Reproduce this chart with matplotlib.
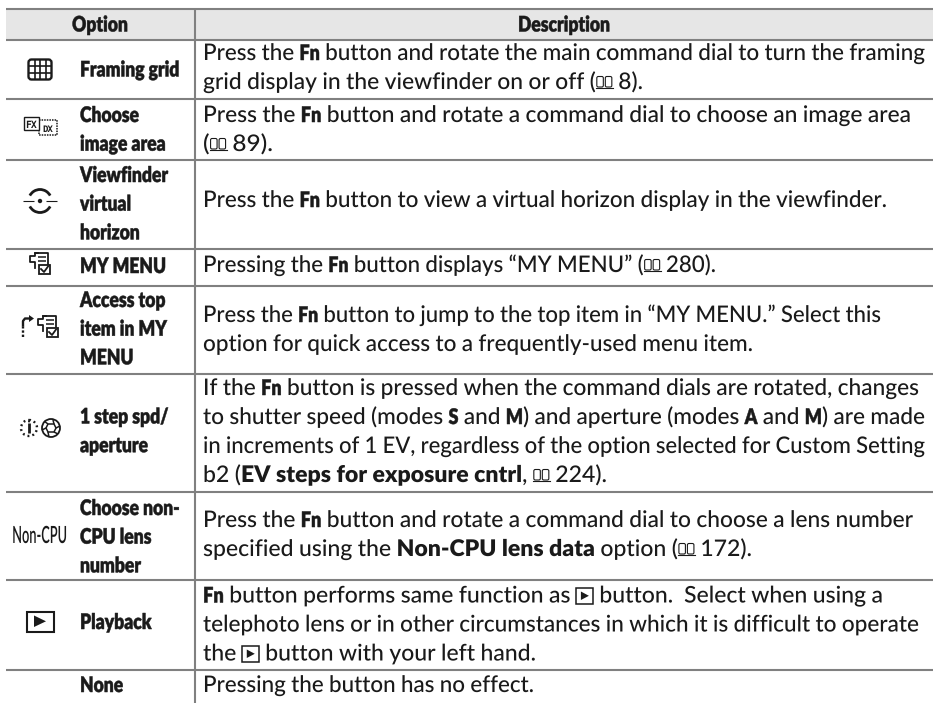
import re
import matplotlib
matplotlib.use("Agg")
import matplotlib.pyplot as plt
from matplotlib.patches import Rectangle, FancyBboxPatch, Circle, Polygon, Arc
from matplotlib.font_manager import FontProperties
from matplotlib.patheffects import AbstractPathEffect
from matplotlib.transforms import Affine2D

plt.rcParams["text.hinting"] = "none"

headers = ["Option", "Description"]
options = [
    ["Framing grid"],
    ["Choose", "image area"],
    ["Viewfinder", "virtual", "horizon"],
    ["MY MENU"],
    ["Access top", "item in MY", "MENU"],
    ["1 step spd/", "aperture"],
    ["Choose non-", "CPU lens", "number"],
    ["Playback"],
    ["None"],
]
# *x* = narrow bold, _x_ = full bold, {book} and {play} = inline icons
descriptions = [
    ["Press the *Fn* button and rotate the main command dial to turn the framing",
     "grid display in the viewfinder on or off ({book} 8)."],
    ["Press the *Fn* button and rotate a command dial to choose an image area",
     "({book} 89)."],
    ["Press the *Fn* button to view a virtual horizon display in the viewfinder."],
    ["Pressing the *Fn* button displays “MY MENU” ({book} 280)."],
    ["Press the *Fn* button to jump to the top item in “MY MENU.” Select this",
     "option for quick access to a frequently-used menu item."],
    ["If the *Fn* button is pressed when the command dials are rotated, changes",
     "to shutter speed (modes *S* and *M*) and aperture (modes *A* and *M*) are made",
     "in increments of 1 EV, regardless of the option selected for Custom Setting",
     "b2 (_EV_ _steps_ _for_ _exposure_ _cntrl_, {book} 224)."],
    ["Press the *Fn* button and rotate a command dial to choose a lens number",
     "specified using the _Non-CPU_ _lens_ _data_ option ({book} 172)."],
    ["*Fn* button performs same function as {play} button.  Select when using a",
     "telephoto lens or in other circumstances in which it is difficult to operate",
     "the {play} button with your left hand."],
    ["Pressing the button has no effect."],
]
# where each description line ends in the reference
line_ends = [
    [925, 643], [911, 273], [887], [716], [881, 753],
    [919, 925, 925, 607], [913, 752], [883, 919, 536], [534],
]
rule_y = [9, 40, 99, 160, 249, 286, 374, 492, 580, 670]
label_y = [76.5, 122, 182, 273, 307, 423.5, 515, 629, 692]
desc_y = [60, 122, 207, 272, 322, 395, 527, 602.5, 692]

W, H = 933, 703
GRAY = "#808080"
INK = "#1a1a1a"
LH = 29
PT = 72 / 100
ICON_W = {"book": 17, "play": 18}


class Stretch(AbstractPathEffect):
    # scales glyphs about the start of their baseline, the installed fonts have other proportions
    def __init__(self, sx, sy, bold=0.0):
        super().__init__()
        self.sx = sx
        self.sy = sy
        self.bold = bold

    def draw_path(self, renderer, gc, tpath, affine, rgbFace=None):
        x0, y0 = affine.transform((0, 0))
        a = affine + Affine2D().translate(-x0, -y0).scale(self.sx, self.sy).translate(x0, y0)
        gc0 = renderer.new_gc()
        gc0.copy_properties(gc)
        if self.bold:
            gc0.set_linewidth(self.bold)
            gc0.set_foreground(INK)
        renderer.draw_path(gc0, tpath, a, rgbFace)
        gc0.restore()


fig = plt.figure(figsize=(W / 100, H / 100), dpi=100)
ax = fig.add_axes([0, 0, 1, 1])
ax.set_xlim(0, W)
ax.set_ylim(H, 0)
ax.axis("off")
renderer = fig.canvas.get_renderer()

reg = FontProperties(family="Lato", weight=500, size=22 * PT)
wide = FontProperties(family="Lato", weight=800, size=22 * PT)
narrow = FontProperties(family="Lato", weight=800, size=17.5 * PT)
cpu = FontProperties(family="Lato", weight=600, size=12.8 * PT)
tall = {id(reg): 1.04, id(wide): 1.04, id(narrow): 1.22, id(cpu): 1.85}
thick = {id(narrow): 0.35}
SPACE = 5.2


def put(x, y, s, fp, ha="left", sx=1.0):
    ax.text(x, y, s, fontproperties=fp, color=INK, va="baseline", ha=ha,
            path_effects=[Stretch(sx, tall[id(fp)], thick.get(id(fp), 0.0))])


def word_width(s, fp):
    return renderer.get_text_width_height_descent(s, fp, False)[0]


def book(x, y):
    for dx in (0, 8.5):
        ax.add_patch(FancyBboxPatch((x + dx + 1, y - 12.5), 6.5, 10.5, boxstyle="round,pad=0,rounding_size=1.5",
                                    fc="none", ec=INK, lw=0.8))
    ax.plot([x, x + 17], [y - 1, y - 1], color=INK, lw=0.8)


def play_small(x, y):
    ax.add_patch(Rectangle((x, y - 15), 17, 16.5, fc="none", ec=INK, lw=1.1))
    ax.add_patch(Polygon([(x + 5, y - 11), (x + 5, y - 2.5), (x + 13, y - 6.7)], fc=INK, ec="none"))


def parse(text):
    items = []
    for word in text.split(" "):
        for piece in re.split(r"(\*[^*]+\*|_[^_]+_|\{[a-z]+\})", word):
            if not piece:
                continue
            if piece[0] == "*":
                items.append((piece[1:-1], narrow))
            elif piece[0] == "_":
                items.append((piece[1:-1], wide))
            elif piece[0] == "{":
                items.append((piece[1:-1], None))
            else:
                items.append((piece, reg))
        items.append((" ", None))
    return items[:-1]


def draw_line(x, y, text, end):
    items = parse(text)
    fixed = sum(ICON_W[s] for s, fp in items if fp is None and s != " ")
    free = sum(SPACE if s == " " else word_width(s, fp) for s, fp in items if fp is not None or s == " ")
    k = (end - x - fixed) / free
    for s, fp in items:
        if s == " ":
            x += SPACE * k
        elif fp is None:
            (book if s == "book" else play_small)(x, y)
            x += ICON_W[s]
        else:
            put(x, y, s, fp, sx=k)
            x += word_width(s, fp) * k


# table rules
ax.add_patch(Rectangle((6, 9), W - 6, 31, fc="#e6e6e6", ec="none"))
for yy in rule_y:
    ax.plot([6, W], [yy, yy], color=GRAY, lw=1.5, solid_capstyle="butt")
ax.plot([195, 195], [9, H], color=GRAY, lw=1.5, solid_capstyle="butt")

put(100, 31.5, headers[0], narrow, ha="center")
put(564, 31.5, headers[1], narrow, ha="center")

for i in range(len(options)):
    for j, s in enumerate(options[i]):
        put(80, label_y[i] + j * 28.7, s, narrow)
    for j, s in enumerate(descriptions[i]):
        draw_line(203, desc_y[i] + j * LH, s, line_ends[i][j])


# left column icons
def line(xs, ys, lw=1.2, **kw):
    ax.plot(xs, ys, color=INK, lw=lw, solid_capstyle="butt", **kw)


# framing grid
ax.add_patch(FancyBboxPatch((28.5, 59.5), 23, 20, boxstyle="round,pad=0,rounding_size=3", fc="none", ec=INK, lw=1.7))
for xx in (34.5, 40, 45.5):
    line([xx, xx], [60, 79], lw=1.2)
for yy in (66, 73):
    line([29, 51], [yy, yy], lw=1.2)

# FX / DX
ax.add_patch(Rectangle((39, 120), 17.5, 14.5, fc="none", ec=INK, lw=1.1, ls=(0, (1, 0.7))))
ax.add_patch(Rectangle((24, 117), 15, 13, fc="white", ec=INK, lw=1.0, zorder=3))
ax.text(31.5, 127.5, "FX", fontsize=7, fontweight="bold", family="DejaVu Sans Mono", color=INK, ha="center", zorder=4)
ax.text(48, 132, "DX", fontsize=6.5, fontweight="bold", family="DejaVu Sans Mono", color=INK, ha="center")

# virtual horizon
for a in (28, 208):
    ax.add_patch(Arc((40, 201), 23, 23, theta1=a, theta2=a + 124, ec=INK, lw=2))
line([23, 34], [201, 201], lw=0.8)
line([46, 57], [201, 201], lw=0.8)
ax.add_patch(Circle((40, 201), 2.2, fc=INK, ec="none"))


def menu_doc(x, y):
    ax.plot([x + 5, x + 5, x, x, x + 5, x + 5, x + 8], [y + 15, y + 9, y + 9, y + 3, y + 3, y, y], color=INK, lw=1.3)
    ax.plot([x + 5, x + 18, x + 18], [y, y, y + 11], color=INK, lw=1.3)
    line([x + 8, x + 16], [y + 4, y + 4], lw=1.1)
    line([x + 8, x + 16], [y + 8, y + 8], lw=1.1)
    ax.add_patch(Rectangle((x + 9, y + 12), 11, 9, fc="white", ec=INK, lw=1.3))
    ax.plot([x + 11, x + 14, x + 18], [y + 16, y + 19, y + 13.5], color=INK, lw=1.3)


menu_doc(30, 253)
menu_doc(38, 316)

# top item arrow
ax.plot([23, 23], [337, 325], color=INK, lw=1.7, ls=(0, (1, 0.8)))
ax.plot([23, 23, 25, 29], [325, 321, 318.5, 318.5], color=INK, lw=1.7)
ax.add_patch(Polygon([(29, 315), (29, 322), (34, 318.5)], fc=INK, ec="none"))

# dial + aperture
ax.add_patch(Circle((29, 428), 8, fc="none", ec=INK, lw=1.7, ls=(0, (0.8, 1.3))))
line([29, 29], [423, 433], lw=2)
ax.add_patch(Circle((29, 421.5), 1, fc=INK, ec="none"))
ax.add_patch(Circle((51, 428), 9, fc="none", ec=INK, lw=1.3))
ax.add_patch(Polygon([(48, 424), (54, 424), (56, 428), (54, 432), (48, 432), (46, 428)], fc="none", ec=INK, lw=1.1))
for a, b, c, d in [(48, 424, 44, 421), (54, 424, 53, 420), (56, 428, 60, 426), (54, 432, 58, 434), (48, 432, 49, 437), (46, 428, 42, 430)]:
    line([a, c], [b, d], lw=1.1)

# Non-CPU
put(39.5, 543, "Non-CPU", cpu, ha="center")

# playback
ax.add_patch(Rectangle((26.5, 611.5), 27, 20, fc="none", ec=INK, lw=1.5))
ax.add_patch(Polygon([(34, 615.5), (34, 627), (46, 621.3)], fc=INK, ec="none"))

fig.savefig("out.png", dpi=100)
